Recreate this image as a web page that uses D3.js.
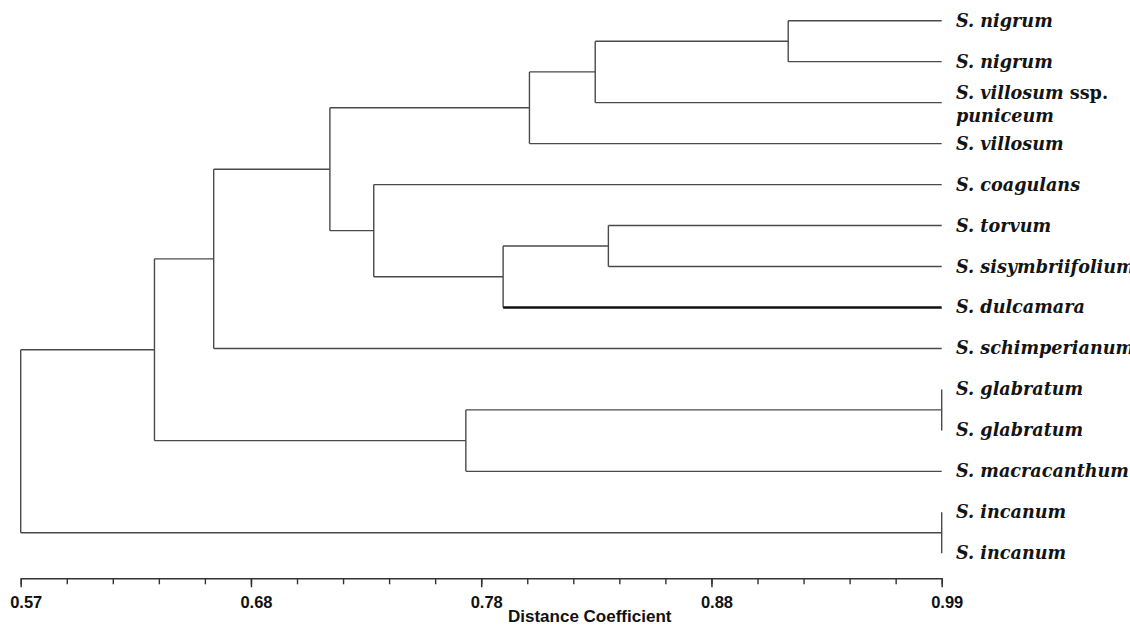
<!DOCTYPE html>
<html>
<head>
<meta charset="utf-8">
<script src="https://cdn.jsdelivr.net/npm/d3@7"></script>
<style>
  body { margin: 0; background: #fff; }
  svg { display: block; }
</style>
</head>
<body>
<svg id="chart" width="1130" height="628"></svg>
<script>
// leaves, top to bottom
const leaves = [
  "S. nigrum", "S. nigrum", "S. villosum ssp. puniceum", "S. villosum",
  "S. coagulans", "S. torvum", "S. sisymbriifolium", "S. dulcamara",
  "S. schimperianum", "S. glabratum", "S. glabratum", "S. macracanthum",
  "S. incanum", "S. incanum"
];
// merges: [child a, child b, coefficient]; new cluster ids start at leaves.length
const merges = [
  [0, 1, 0.920],
  [14, 2, 0.832],
  [15, 3, 0.802],
  [5, 6, 0.838],
  [17, 7, 0.790],
  [4, 18, 0.731],
  [16, 19, 0.711],
  [20, 8, 0.658],
  [9, 10, 0.990],
  [22, 11, 0.773],
  [21, 23, 0.631],
  [12, 13, 0.990],
  [24, 25, 0.570]
];
const majorTicks = [0.57, 0.675, 0.78, 0.885, 0.99];
const majorLabels = ["0.57", "0.68", "0.78", "0.88", "0.99"];
const axisTitle = "Distance Coefficient";

const svg = d3.select("#chart");
const lineColor = "#4a4a4a";

const x = d3.scaleLinear().domain([0.57, 0.99]).range([20.7, 941.7]);
const y = d3.scalePoint().domain(d3.range(leaves.length)).range([20.7, 553.3]);

// build the tree from the merge list
const nodes = leaves.map((name, i) => ({ name: name, idx: i, h: 0.99 }));
merges.forEach((m) => {
  nodes.push({ children: [nodes[m[0]], nodes[m[1]]], h: m[2] });
});
const root = d3.hierarchy(nodes[nodes.length - 1]);

root.eachAfter((d) => {
  d.px = x(d.data.h);
  if (d.children) {
    d.py = (d.children[0].py + d.children[d.children.length - 1].py) / 2;
  } else {
    d.py = y(d.data.idx);
  }
});

const isThick = (d) => d.target.data.name === "S. dulcamara";
const tree = svg.append("g").attr("fill", "none");

// vertical joins
tree.selectAll("line.v")
  .data(root.descendants().filter((d) => d.children))
  .enter()
  .append("line")
  .attr("class", "v")
  .attr("stroke", lineColor)
  .attr("stroke-width", 1.4)
  .attr("x1", (d) => d.px)
  .attr("x2", (d) => d.px)
  .attr("y1", (d) => d.children[0].py)
  .attr("y2", (d) => d.children[d.children.length - 1].py);

// horizontal branches
tree.selectAll("line.h")
  .data(root.links())
  .enter()
  .append("line")
  .attr("class", "h")
  .attr("stroke", (d) => (isThick(d) ? "#111" : lineColor))
  .attr("stroke-width", (d) => (isThick(d) ? 2.4 : 1.4))
  .attr("x1", (d) => d.source.px)
  .attr("x2", (d) => d.target.px)
  .attr("y1", (d) => d.target.py)
  .attr("y2", (d) => d.target.py);

// leaf labels
const labelX = 956;
const label = svg.append("g")
  .attr("font-family", "'DejaVu Serif', serif")
  .attr("font-size", 17.6)
  .attr("font-weight", "bold")
  .attr("fill", "#141414")
  .selectAll("text")
  .data(root.leaves())
  .enter()
  .append("text")
  .attr("x", labelX)
  .attr("y", (d) => d.py + 6);

label.each(function (d) {
  const t = d3.select(this);
  const parts = d.data.name.split(" ssp. ");
  if (parts.length > 1) {
    t.attr("y", d.py - 4);
    t.append("tspan").attr("font-style", "italic").text(parts[0]);
    t.append("tspan").text(" ssp.");
    t.append("tspan").attr("x", labelX).attr("dy", 23).attr("font-style", "italic").text(parts[1]);
  } else {
    t.append("tspan").attr("font-style", "italic").text(d.data.name);
  }
});

// axis
const axisY = 578.3;
const minorAxis = svg.append("g")
  .attr("transform", `translate(0,${axisY})`)
  .call(d3.axisBottom(x)
    .tickValues(d3.range(0, 21).map((i) => 0.57 + i * 0.021))
    .tickSize(6)
    .tickSizeOuter(0)
    .tickFormat(""));
minorAxis.select(".domain").attr("stroke", "#333").attr("stroke-width", 1.5);
minorAxis.selectAll(".tick line").attr("stroke", "#333").attr("stroke-width", 1.4);

const majorAxis = svg.append("g")
  .attr("transform", `translate(0,${axisY})`)
  .call(d3.axisBottom(x)
    .tickValues(majorTicks)
    .tickSize(9)
    .tickSizeOuter(0)
    .tickFormat((d, i) => majorLabels[i]));
majorAxis.select(".domain").remove();
majorAxis.selectAll(".tick line").attr("stroke", "#333").attr("stroke-width", 1.5);
majorAxis.selectAll(".tick text")
  .attr("y", 18)
  .attr("dx", 5)
  .attr("fill", "#111")
  .attr("font-family", "'Liberation Sans', Arial, sans-serif")
  .attr("font-size", 16.5)
  .attr("font-weight", "bold");

svg.append("text")
  .attr("x", 508)
  .attr("y", 622)
  .attr("font-family", "'Liberation Sans', Arial, sans-serif")
  .attr("font-size", 17)
  .attr("font-weight", "bold")
  .attr("fill", "#111")
  .text(axisTitle);
</script>
</body>
</html>
